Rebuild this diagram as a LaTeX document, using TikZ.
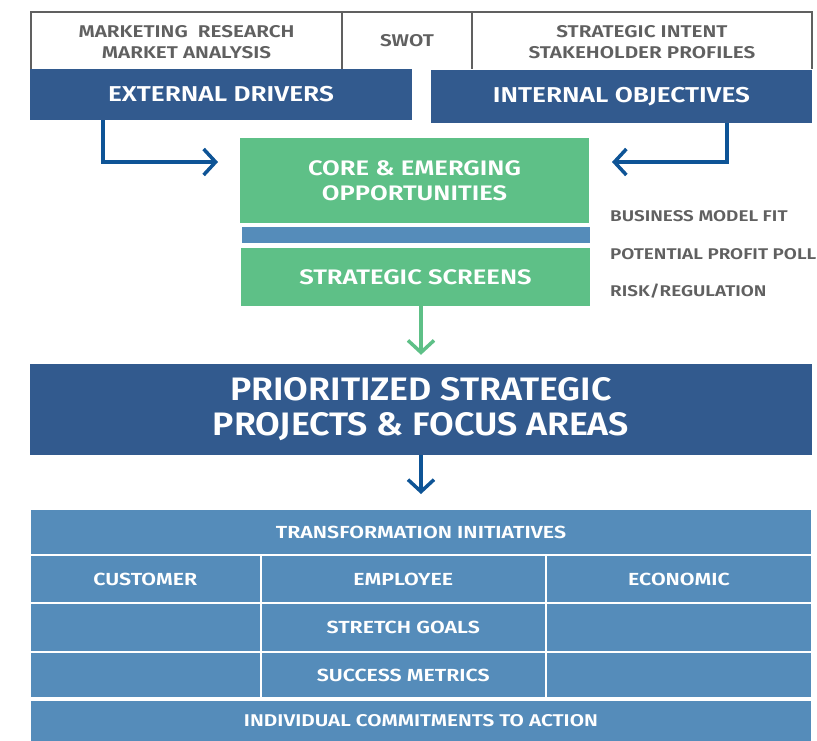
\documentclass[tikz,border=0pt]{standalone}
\usepackage{fontspec}
\setmainfont{Fira Sans}[BoldFont={Fira Sans SemiBold}, FakeStretch=1.22]
\newfontfamily\titular{Fira Sans SemiBold}[FakeStretch=1.1]
\usetikzlibrary{positioning, arrows.meta}
\definecolor{azul}{RGB}{50,90,142}
\definecolor{azulflecha}{RGB}{14,84,150}
\definecolor{verde}{RGB}{94,192,135}
\definecolor{celeste}{RGB}{85,140,186}
\definecolor{gris}{RGB}{96,96,96}
\tikzset{
    celdasup/.style={text=gris, inner sep=0pt, align=center, minimum height=57pt,
        font=\bfseries\fontsize{17}{21}\selectfont},
    bloque/.style={fill=azul, text=white, inner sep=0pt, align=center,
        font=\bfseries\fontsize{21.5}{24}\selectfont},
    oportunidad/.style={fill=verde, text=white, inner sep=0pt, align=center,
        font=\bfseries\fontsize{21}{25}\selectfont},
    filtro/.style={text=gris, inner sep=0pt, anchor=west,
        font=\bfseries\fontsize{15.5}{16}\selectfont},
    celda/.style={fill=celeste, draw=white, line width=2pt, text=white, inner sep=0pt,
        align=center, font=\bfseries\fontsize{17.5}{20}\selectfont},
    flecha/.style={draw=azulflecha, line width=3.5pt,
        -{Straight Barb[length=12pt, width=26pt]}},
    flechaverde/.style={flecha, draw=verde}}
\begin{document}
\begin{tikzpicture}[x=1pt, y=-1pt]
    \useasboundingbox (0,0) rectangle (817,740);
    % fila superior
    \node[celdasup, minimum width=311pt] (mr) at (186.5,42) {MARKETING\ \ RESEARCH\\MARKET ANALYSIS};
    \node[celdasup, minimum width=130pt] (swot) at (407,41) {SWOT};
    \node[celdasup, minimum width=340pt] (si) at (642,42) {STRATEGIC INTENT\\STAKEHOLDER PROFILES};
    \draw[gris, line width=1.5pt] (31,69) |- (812,12) -- (812,69);
    \draw[gris, line width=1.5pt] (342,12) -- (342,69) (472,12) -- (472,69);
    % impulsores
    \node[bloque, minimum width=382pt, minimum height=51pt] (ext) at (221,94.5) {EXTERNAL DRIVERS};
    \node[bloque, minimum width=381pt, minimum height=53pt] (int) at (621.5,96.5) {INTERNAL OBJECTIVES};
    % oportunidades
    \node[oportunidad, minimum width=349pt, minimum height=85pt] (core) at (414.5,180.5) {CORE \& EMERGING\\OPPORTUNITIES};
    \node[fill=celeste, minimum width=348pt, minimum height=16pt, inner sep=0pt] (barra) at (416,235) {};
    \node[oportunidad, minimum width=349pt, minimum height=58pt] (screens) at (415.5,277) {STRATEGIC SCREENS};
    \node[filtro] (fit) at (610,216) {BUSINESS MODEL FIT};
    \node[filtro] (pool) at (610,254) {POTENTIAL PROFIT POLL};
    \node[filtro] (risk) at (610,291) {RISK/REGULATION};
    % prioridades
    \node[bloque, minimum width=782pt, minimum height=91pt, font=\titular\fontsize{32.5}{35}\selectfont]
        (prio) at (421,409.5) {PRIORITIZED STRATEGIC\\PROJECTS \& FOCUS AREAS};
    % tabla
    \node[celda, minimum width=782pt, minimum height=46pt] (trans) at (421,532) {TRANSFORMATION INITIATIVES};
    \node[celda, minimum width=230.5pt, minimum height=48pt] (cust) at (145.25,579) {CUSTOMER};
    \node[celda, minimum width=285.5pt, minimum height=48pt] (empl) at (403.25,579) {EMPLOYEE};
    \node[celda, minimum width=266pt, minimum height=48pt] (econ) at (679,579) {ECONOMIC};
    \node[celda, minimum width=230.5pt, minimum height=49pt] (g1) at (145.25,627.5) {};
    \node[celda, minimum width=285.5pt, minimum height=49pt] (goals) at (403.25,627.5) {STRETCH GOALS};
    \node[celda, minimum width=266pt, minimum height=49pt] (g3) at (679,627.5) {};
    \node[celda, minimum width=230.5pt, minimum height=46pt] (m1) at (145.25,675) {};
    \node[celda, minimum width=285.5pt, minimum height=46pt] (metrics) at (403.25,675) {SUCCESS METRICS};
    \node[celda, minimum width=266pt, minimum height=46pt] (m3) at (679,675) {};
    \node[celda, minimum width=782pt, minimum height=42pt, font=\bfseries\fontsize{17}{20}\selectfont]
        (accion) at (421,721) {INDIVIDUAL COMMITMENTS TO ACTION};
    % flechas
    \coordinate (llegaizq) at (218,162);
    \coordinate (llegader) at (612,162);
    \draw[flecha] ([xshift=-118pt]ext.south) |- (llegaizq);
    \draw[flecha] ([xshift=105.5pt]int.south) |- (llegader);
    \draw[flechaverde] (screens.south -| prio.north) -- ([yshift=9pt]prio.north);
    \draw[flecha] (prio.south) -- ([yshift=14pt]trans.north);
\end{tikzpicture}
\end{document}
